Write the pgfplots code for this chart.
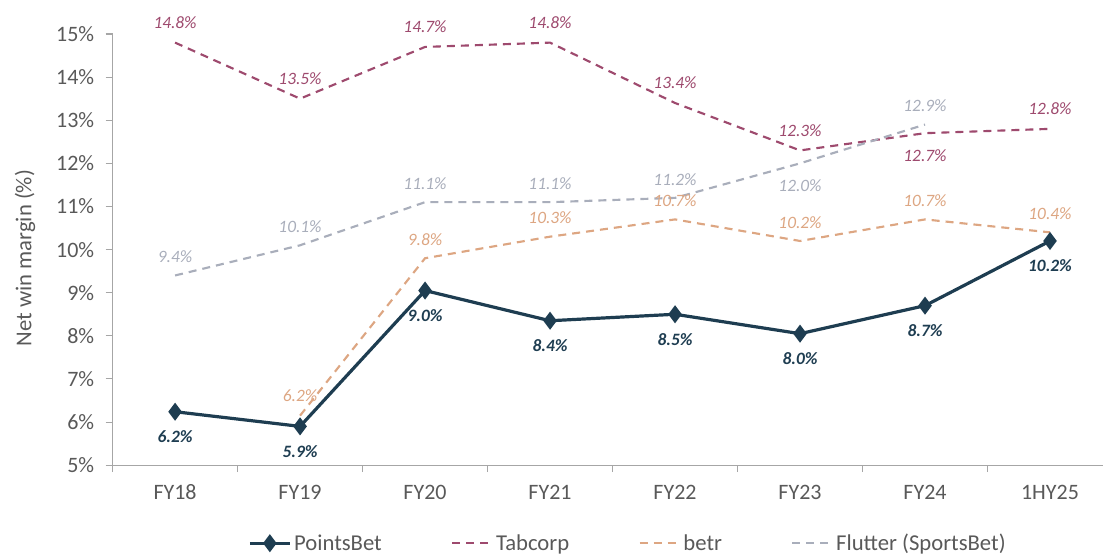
\documentclass[border=0pt]{standalone}
\usepackage{pgfplots}
\usepackage{pgfplotstable}
\pgfplotsset{compat=1.18}
\usepackage{fontspec}
\setmainfont{Carlito}
\definecolor{pb}{HTML}{1E3D51}
\definecolor{tab}{HTML}{9E4A6E}
\definecolor{betr}{HTML}{DDA682}
\definecolor{flut}{HTML}{A9AEBB}
\definecolor{txt}{HTML}{595959}
\definecolor{axc}{HTML}{A6A6A6}

\pgfplotsset{
  pbleg/.style={legend image code/.code={\draw[##1, mark repeat=2, mark phase=2] plot coordinates {(0pt,0pt)(15pt,0pt)(30pt,0pt)};}},
  dashleg/.style={legend image code/.code={\draw[##1] (0pt,0pt) -- (30pt,0pt);}},
}

\pgfplotstableread{
x y lab dy
0 6.24 6.2 -18.75
1 5.90 5.9 -18.75
2 9.05 9.0 -18.75
3 8.35 8.4 -18.75
4 8.50 8.5 -18.75
5 8.05 8.0 -18.75
6 8.70 8.7 -18.75
7 10.20 10.2 -18.75
}\pb
\pgfplotstableread{
x y lab dy
0 14.8 14.8 15
1 13.5 13.5 15
2 14.7 14.7 15
3 14.8 14.8 15
4 13.4 13.4 15
5 12.3 12.3 15
6 12.7 12.7 -16.5
7 12.8 12.8 15
}\tab
\pgfplotstableread{
x y lab dy
1 6.15 6.2 15
2 9.8 9.8 14
3 10.3 10.3 14
4 10.7 10.7 14
5 10.2 10.2 14
6 10.7 10.7 14
7 10.4 10.4 14
}\betr
\pgfplotstableread{
x y lab dy
0 9.4 9.4 14
1 10.1 10.1 14
2 11.1 11.1 14
3 11.1 11.1 14
4 11.2 11.2 14
5 12.0 12.0 -16.5
6 12.9 12.9 14
}\flut

\begin{document}
\begin{tikzpicture}
\begin{axis}[
  scale only axis,
  width=742.5pt, height=323.25pt,
  xmin=-0.5, xmax=7.424,
  ymin=5, ymax=15,
  axis x line=bottom, axis y line=left,
  axis line style={-, draw=axc, line width=0.8pt},
  xtick={0,...,7},
  xticklabels={FY18,FY19,FY20,FY21,FY22,FY23,FY24,1HY25},
  minor xtick={-0.5,0.5,...,6.5},
  major x tick style={draw=none},
  minor x tick style={draw=axc, line width=0.8pt},
  minor tick length=5.25pt,
  ytick={5,...,15},
  ytick style={draw=axc, line width=0.8pt},
  major tick length=5.25pt,
  tick align=outside,
  yticklabel={\pgfmathprintnumber{\tick}\%},
  /pgf/number format/assume math mode=true,
  ticklabel style={font=\fontsize{16.5}{18}\selectfont, text=txt},
  xticklabel style={yshift=-6pt},
  yticklabel style={xshift=-5pt},
  ylabel={Net win margin (\%)},
  every axis y label/.style={at={(axis description cs:-0.0884,0.48)}, rotate=90, anchor=center,
    font=\fontsize{17}{19}\selectfont, text=txt},
  legend style={at={(0.5207,-0.181)}, anchor=center, draw=none, fill=none,
    font=\fontsize{17}{19}\selectfont, text=txt, legend columns=4,
    /tikz/every even column/.append style={column sep=50pt},
    inner sep=0pt},
  legend cell align=left,
  clip=false,
  nodes near coords={\pgfplotspointmeta\%},
  point meta=explicit symbolic,
  visualization depends on={\thisrow{dy} \as \myshift},
]
\addplot[pb, line width=2.4pt, mark=diamond*, mark size=4.8pt, mark options={solid, fill=pb},
  every node near coord/.append style={anchor=center, yshift=\myshift, font=\fontsize{13}{15}\selectfont\bfseries\itshape, text=pb},
  pbleg]
  table[x=x, y=y, meta=lab] {\pb};
\addlegendentry{PointsBet}
\addplot[tab, line width=1.6pt, dash pattern=on 6pt off 4.5pt, mark=none,
  every node near coord/.append style={anchor=center, yshift=\myshift, font=\fontsize{13}{15}\selectfont\itshape, text=tab},
  dashleg]
  table[x=x, y=y, meta=lab] {\tab};
\addlegendentry{Tabcorp}
\addplot[betr, line width=1.6pt, dash pattern=on 6pt off 4.5pt, mark=none,
  every node near coord/.append style={anchor=center, yshift=\myshift, font=\fontsize{13}{15}\selectfont\itshape, text=betr},
  dashleg]
  table[x=x, y=y, meta=lab] {\betr};
\addlegendentry{betr}
\addplot[flut, line width=1.6pt, dash pattern=on 6pt off 4.5pt, mark=none,
  every node near coord/.append style={anchor=center, yshift=\myshift, font=\fontsize{13}{15}\selectfont\itshape, text=flut},
  dashleg]
  table[x=x, y=y, meta=lab] {\flut};
\addlegendentry{Flutter (SportsBet)}
\end{axis}
\pgfresetboundingbox
\path (current axis.south west) ++(-84.4pt,-67.5pt) coordinate (bbsw);
\path (current axis.north east) ++(0pt,25.5pt) coordinate (bbne);
\path (bbsw) rectangle (bbne);
\end{tikzpicture}
\end{document}
